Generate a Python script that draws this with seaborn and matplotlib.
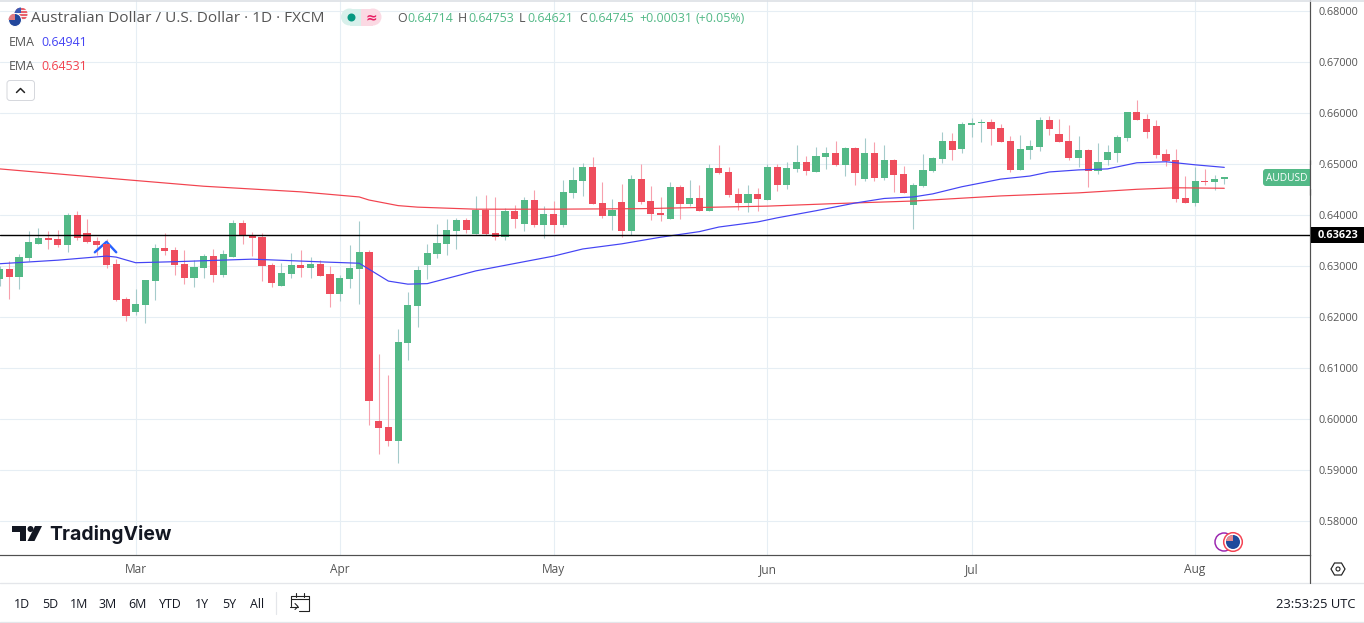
import numpy as np
import pandas as pd
import matplotlib
matplotlib.use('Agg')
import matplotlib.pyplot as plt
import seaborn as sns
from matplotlib.patches import Circle, FancyBboxPatch, Polygon, Rectangle

# daily candles, prices in 1/10000 of a dollar, first candle is cut by the left edge
bar_open = [6275, 6295, 6279, 6316, 6344, 6356, 6354, 6342, 6401, 6365,
            6350, 6344, 6305, 6236, 6210, 6224, 6271, 6336, 6332, 6305,
            6277, 6297, 6320, 6283, 6318, 6385, 6361, 6358, 6303, 6261,
            6285, 6303, 6297, 6305, 6285, 6246, 6275, 6295, 6328, 5997,
            5985, 5958, 6150, 6222, 6303, 6324, 6344, 6369, 6391, 6363,
            6410, 6365, 6358, 6408, 6383, 6430, 6381, 6403, 6381, 6443,
            6467, 6494, 6424, 6399, 6426, 6369, 6471, 6428, 6405, 6393,
            6455, 6422, 6434, 6408, 6492, 6484, 6442, 6424, 6442, 6430,
            6494, 6460, 6491, 6505, 6485, 6514, 6522, 6499, 6532, 6471,
            6522, 6473, 6508, 6481, 6420, 6458, 6487, 6510, 6546, 6530,
            6577, 6581, 6583, 6571, 6546, 6489, 6528, 6534, 6587, 6560,
            6546, 6512, 6528, 6487, 6508, 6522, 6552, 6603, 6589, 6575,
            6520, 6508, 6434, 6424, 6467, 6465, 6471]
bar_close = [6295, 6279, 6318, 6348, 6356, 6352, 6342, 6401, 6356, 6348,
             6342, 6303, 6233, 6203, 6226, 6273, 6336, 6330, 6303, 6277,
             6299, 6320, 6283, 6324, 6385, 6360, 6356, 6301, 6267, 6287,
             6303, 6297, 6305, 6281, 6246, 6277, 6297, 6328, 6036, 5983,
             5958, 6152, 6224, 6293, 6326, 6346, 6371, 6391, 6371, 6410,
             6363, 6358, 6408, 6393, 6430, 6381, 6403, 6381, 6445, 6469,
             6494, 6422, 6399, 6410, 6369, 6471, 6426, 6403, 6401, 6455,
             6422, 6434, 6408, 6492, 6482, 6440, 6424, 6442, 6432, 6494,
             6459, 6493, 6505, 6487, 6516, 6522, 6499, 6532, 6483, 6522,
             6473, 6508, 6479, 6444, 6460, 6489, 6512, 6546, 6528, 6579,
             6581, 6583, 6569, 6544, 6489, 6530, 6536, 6587, 6569, 6544,
             6512, 6528, 6487, 6505, 6524, 6554, 6603, 6587, 6563, 6518,
             6506, 6432, 6424, 6467, 6465, 6471, 6475]
bar_high = [6300, 6310, 6324, 6369, 6375, 6369, 6371, 6405, 6408, 6393,
            6358, 6354, 6314, 6240, 6256, 6273, 6344, 6365, 6338, 6332,
            6312, 6324, 6334, 6332, 6391, 6391, 6367, 6365, 6307, 6307,
            6326, 6332, 6318, 6312, 6301, 6283, 6342, 6389, 6332, 6128,
            6087, 6177, 6250, 6301, 6344, 6383, 6393, 6395, 6395, 6438,
            6440, 6436, 6414, 6420, 6436, 6450, 6418, 6428, 6469, 6494,
            6502, 6514, 6465, 6432, 6461, 6479, 6500, 6457, 6436, 6465,
            6459, 6469, 6459, 6500, 6537, 6494, 6453, 6459, 6453, 6500,
            6500, 6505, 6538, 6516, 6534, 6534, 6546, 6534, 6534, 6552,
            6544, 6538, 6510, 6497, 6463, 6520, 6514, 6563, 6561, 6583,
            6591, 6589, 6589, 6579, 6556, 6558, 6548, 6593, 6595, 6589,
            6577, 6556, 6530, 6542, 6538, 6558, 6603, 6626, 6599, 6587,
            6530, 6530, 6477, 6495, 6491, 6479, 6475]
bar_low = [6262, 6236, 6256, 6310, 6344, 6334, 6338, 6328, 6352, 6346,
           6322, 6297, 6232, 6193, 6205, 6189, 6234, 6322, 6283, 6265,
           6259, 6277, 6269, 6279, 6318, 6344, 6320, 6271, 6259, 6261,
           6277, 6279, 6277, 6281, 6220, 6232, 6257, 6226, 5989, 5932,
           5948, 5914, 6116, 6181, 6275, 6316, 6322, 6334, 6365, 6363,
           6361, 6351, 6351, 6375, 6369, 6377, 6356, 6366, 6377, 6434,
           6438, 6422, 6395, 6371, 6358, 6362, 6422, 6391, 6389, 6393,
           6393, 6418, 6408, 6408, 6481, 6436, 6410, 6406, 6408, 6430,
           6447, 6452, 6485, 6479, 6485, 6491, 6497, 6477, 6459, 6467,
           6467, 6469, 6446, 6444, 6373, 6456, 6485, 6503, 6508, 6522,
           6554, 6544, 6538, 6544, 6485, 6489, 6510, 6526, 6558, 6544,
           6508, 6495, 6456, 6481, 6499, 6505, 6546, 6587, 6552, 6512,
           6497, 6426, 6424, 6418, 6460, 6450, 6462]

# EMA lines read at a few bars
fast_bars = [-1, 5, 10, 11, 13, 17, 25, 33, 36, 39, 41, 43, 48, 56, 59, 63, 67, 71, 73,
             77, 79, 83, 87, 90, 93, 95, 98, 102, 105, 107, 110, 113, 116, 119, 122, 125]
fast_ema = [6305, 6312, 6320, 6318, 6307, 6309, 6314, 6308, 6306, 6271, 6265, 6266, 6291,
            6320, 6334, 6344, 6357, 6368, 6377, 6387, 6395, 6409, 6424, 6433, 6436, 6442,
            6456, 6471, 6477, 6485, 6489, 6491, 6503, 6505, 6499, 6494]
slow_bars = [-1, 10, 20, 30, 36, 37, 40, 42, 48, 56, 65, 78, 85, 93, 102, 110, 116, 120, 125]
slow_ema = [6491, 6473, 6457, 6446, 6436, 6430, 6419, 6416, 6412, 6412, 6413, 6418, 6423,
            6428, 6438, 6444, 6451, 6454, 6453]

price_ticks = [0.58, 0.59, 0.60, 0.61, 0.62, 0.63, 0.64, 0.65, 0.66, 0.67, 0.68]
month_bars = [13, 34, 56, 78, 99, 122]
month_labels = ['Mar', 'Apr', 'May', 'Jun', 'Jul', 'Aug']
range_labels = ['1D', '5D', '1M', '3M', '6M', 'YTD', '1Y', '5Y', 'All']
range_x = [22, 50, 79, 108, 137, 170, 202, 229, 257]
last_line = 0.63623
arrow_bars = [8.8, 10, 11]
arrow_prices = [0.63275, 0.6348, 0.63275]

W, H = 1364, 623
PANE_R, PANE_B = 1310, 555
UP = '#53b987'
DOWN = '#ee4d5d'
UP_WICK = '#a5cbcb'
DOWN_WICK = '#f7a0ad'
GRID = '#e6eef4'
TEXT = '#555555'
PX = 0.72

sns.set_theme(style='white')
plt.rcParams['font.family'] = ['Open Sans', 'DejaVu Sans']

df = pd.DataFrame({'bar': np.arange(-1, 126), 'open': bar_open, 'close': bar_close,
                   'high': bar_high, 'low': bar_low})
for col in ['open', 'close', 'high', 'low']:
    df[col] = df[col] / 10000.0
df['bottom'] = df[['open', 'close']].min(axis=1)
df['body'] = (df['close'] - df['open']).abs().clip(lower=0.00012)
ups = df[df['close'] >= df['open']]
downs = df[df['close'] < df['open']]

fig = plt.figure(figsize=(W / 100, H / 100), dpi=100, facecolor='white')
ax = fig.add_axes([0, 1 - PANE_B / H, PANE_R / W, PANE_B / H])

ax.vlines(ups['bar'], ups['low'], ups['high'], color=UP_WICK, lw=PX * 1.1, zorder=3)
ax.vlines(downs['bar'], downs['low'], downs['high'], color=DOWN_WICK, lw=PX * 1.1, zorder=3)
sns.barplot(data=ups, x='bar', y='body', bottom=ups['bottom'].values, native_scale=True,
            color=UP, saturation=1, width=0.74, errorbar=None, linewidth=0, zorder=4, ax=ax)
sns.barplot(data=downs, x='bar', y='body', bottom=downs['bottom'].values, native_scale=True,
            color=DOWN, saturation=1, width=0.74, errorbar=None, linewidth=0, zorder=4, ax=ax)

fast = pd.DataFrame({'bar': fast_bars, 'ema': np.array(fast_ema) / 10000.0})
slow = pd.DataFrame({'bar': slow_bars, 'ema': np.array(slow_ema) / 10000.0})
sns.lineplot(data=slow, x='bar', y='ema', color='#f2434f', lw=PX * 1.2, zorder=5, ax=ax)
sns.lineplot(data=fast, x='bar', y='ema', color='#4444f4', lw=PX * 1.2, zorder=5, ax=ax)

ax.axhline(last_line, color='black', lw=PX * 1.4, zorder=6)
ax.plot(arrow_bars, arrow_prices, color='#2962ff', lw=PX * 2.4, zorder=3.5)

# pixel position of bar i is 9.3 + 9.72 * i, price 0.64 sits at y=215.3
ax.set_xlim((0 - 9.3) / 9.72, (PANE_R - 9.3) / 9.72)
ax.set_ylim(0.64 + (215.3 - PANE_B) * 1.961 / 10000, 0.64 + 215.3 * 1.961 / 10000)
ax.set_xticks(month_bars)
ax.set_xticklabels(month_labels)
ax.set_yticks(price_ticks)
ax.set_yticklabels(['%.5f' % p for p in price_ticks])
ax.yaxis.tick_right()
ax.set_xlabel('')
ax.set_ylabel('')
ax.tick_params(axis='x', length=0, pad=5.5, labelsize=8.6, labelcolor=TEXT)
ax.tick_params(axis='y', length=0, pad=6, labelsize=7.8, labelcolor=TEXT)
ax.grid(True, color=GRID, lw=PX * 1.1, zorder=0)
ax.set_axisbelow(True)
for side in ['top', 'left']:
    ax.spines[side].set_visible(False)
for side in ['right', 'bottom']:
    ax.spines[side].set_color('#505050')
    ax.spines[side].set_linewidth(PX * 1.2)
    ax.spines[side].set_visible(True)

# everything around the chart is placed in screen pixels
ui = fig.add_axes([0, 0, 1, 1], zorder=10)
ui.set_xlim(0, W)
ui.set_ylim(H, 0)
ui.axis('off')
ui.patch.set_alpha(0)

ui.plot([0, W], [583, 583], color='#e4e6ea', lw=PX * 1.3)
ui.plot([0, W], [621.5, 621.5], color='#e4e6ea', lw=PX * 1.3)
ui.plot([0, W], [0.5, 0.5], color='#dcdfe4', lw=PX * 1.6)
ui.plot([PANE_R, PANE_R], [PANE_B, 583], color='#505050', lw=PX * 1.2)
ui.plot([276, 276], [592, 614], color='#e4e6ea', lw=PX * 1.2)

# legend block, small flags clipped to their circles
us_flag = Circle((21, 14), 6.5, fc='#f4f4f4', ec='none')
ui.add_patch(us_flag)
for y in [8, 11, 14, 17]:
    stripe = Rectangle((14, y), 14, 1.5, fc='#e8616c', ec='none')
    ui.add_patch(stripe)
    stripe.set_clip_path(us_flag)
canton = Rectangle((14, 7), 7, 6, fc='#3b5bb5', ec='none')
ui.add_patch(canton)
canton.set_clip_path(us_flag)
au_flag = Circle((15, 20), 6.5, fc='#23479c', ec='white', lw=PX)
ui.add_patch(au_flag)
union = Rectangle((8, 13.5), 7, 6, fc='#e27a80', ec='none')
ui.add_patch(union)
union.set_clip_path(au_flag)
ui.text(31, 19, 'Australian Dollar / U.S. Dollar \u00b7 1D \u00b7 FXCM', fontsize=11.05,
        color='#555555', va='center', ha='left')
ui.add_patch(Circle((349.5, 17), 8.5, fc='#d8f0eb', ec='none'))
ui.add_patch(Rectangle((349.5, 8.5), 11.5, 17, fc='#d8f0eb', ec='none'))
ui.add_patch(Circle((373, 17), 8.5, fc='#fbd9e3', ec='none'))
ui.add_patch(Rectangle((361, 8.5), 12, 17, fc='#fbd9e3', ec='none'))
ui.add_patch(Circle((351.5, 17.5), 4, fc='#089981', ec='none'))
ui.text(371, 17.5, '\u2248', fontsize=10, color='#e91e63', fontweight='bold', ha='center',
        va='center', family=['DejaVu Sans'])
for x, s, c in [(397, 'O', TEXT), (407, '0.64714', UP), (458, 'H', TEXT), (468, '0.64753', UP),
                (519, 'L', TEXT), (527, '0.64621', UP), (579, 'C', TEXT), (588, '0.64745', UP),
                (639, '+0.00031', UP), (696, '(+0.05%)', UP)]:
    ui.text(x, 18.5, s, fontsize=8.9, color=c, va='center', ha='left')
ui.text(9, 42.5, 'EMA', fontsize=8.9, color=TEXT, va='center')
ui.text(41, 42.5, '0.64941', fontsize=8.9, color='#4444f4', va='center')
ui.text(9, 66.5, 'EMA', fontsize=8.9, color=TEXT, va='center')
ui.text(41, 66.5, '0.64531', fontsize=8.9, color='#f2434f', va='center')
ui.add_patch(FancyBboxPatch((7, 80.5), 27.5, 20, boxstyle='round,pad=0,rounding_size=3',
                            fc='white', ec='#d6d8dd', lw=PX))
ui.plot([16.5, 20.5, 24.5], [92.5, 88.5, 92.5], color='#222222', lw=PX * 1.5)

# right hand tags
ui.add_patch(FancyBboxPatch((1263, 169), 50, 17, boxstyle='round,pad=0,rounding_size=3', fc=UP, ec='none'))
ui.add_patch(Rectangle((1310.5, 165), 10, 24, fc='white', ec='none'))
ui.plot([PANE_R, PANE_R], [160, 195], color='#505050', lw=PX * 1.2)
ui.text(1286.5, 178.3, 'AUDUSD', fontsize=7.3, color='white', ha='center', va='center')
ui.add_patch(Rectangle((1311, 227), 53, 15.5, fc='black', ec='none'))
ui.text(1338, 235.2, '0.63623', fontsize=7.9, color='white', fontweight='bold', ha='center', va='center')

# TradingView mark
ui.add_patch(Polygon([(12, 526), (26, 526), (26, 541), (19.5, 541), (19.5, 532), (12, 532)],
                     fc='#131722', ec='none'))
ui.add_patch(Circle((30.5, 529), 3, fc='#131722', ec='none'))
ui.add_patch(Polygon([(35, 526), (42, 526), (34.5, 541), (27.5, 541)], fc='#131722', ec='none'))
ui.text(49, 534, 'TradingView', fontsize=14, fontweight='bold', color='#131722',
        ha='left', va='center', family=['Inter', 'DejaVu Sans'])

# flag markers near the last bar
ui.add_patch(Circle((1224, 542), 9, fc='white', ec='#9c27b0', lw=PX * 1.5))
ui.add_patch(Circle((1233, 542), 9.3, fc='white', ec='#f44352', lw=PX * 1.5))
marker_flag = Circle((1233, 542), 7, fc='#1f4a9c', ec='none')
ui.add_patch(marker_flag)
marker_union = Rectangle((1226, 535), 6.5, 6, fc='#e58c92', ec='none')
ui.add_patch(marker_union)
marker_union.set_clip_path(marker_flag)

# settings hexagon
ui.add_patch(Polygon([(1331, 569), (1334.5, 563), (1341.5, 563), (1345, 569), (1341.5, 575), (1334.5, 575)],
                     fc='none', ec='#222222', lw=PX * 1.2))
ui.add_patch(Circle((1338, 569), 2, fc='none', ec='#222222', lw=PX * 1.1))

# bottom toolbar
for x, s in zip(range_x, range_labels):
    ui.text(x, 604, s, fontsize=8.9, color='#131722', ha='center', va='center')
ui.plot([291, 291, 309, 309, 299], [606, 595.5, 595.5, 610.5, 610.5], color='#222222', lw=PX * 1.1)
ui.plot([291, 309], [599, 599], color='#222222', lw=PX * 1.1)
ui.plot([296, 296], [593, 597], color='#222222', lw=PX * 1.1)
ui.plot([304, 304], [593, 597], color='#222222', lw=PX * 1.1)
ui.plot([290, 298], [606.5, 606.5], color='#222222', lw=PX * 1.1)
ui.plot([295, 298, 295], [603.5, 606.5, 609.5], color='#222222', lw=PX * 1.1)
ui.text(1355, 604, '23:53:25 UTC', fontsize=9.4, color='#131722', ha='right', va='center')

fig.savefig('out.png', dpi=100)
